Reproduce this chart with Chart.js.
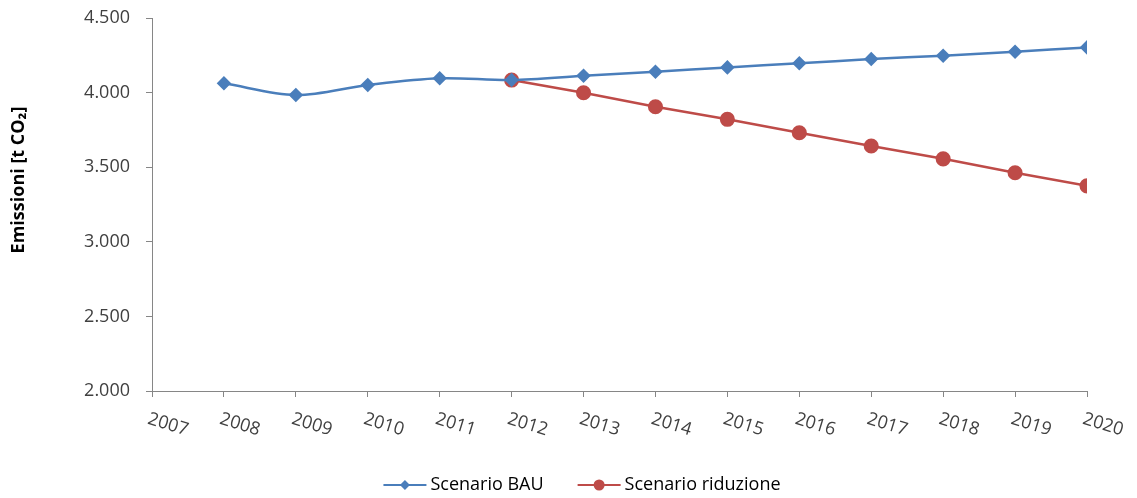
<!DOCTYPE html>
<html>
<head>
<meta charset="utf-8">
<script src="https://cdn.jsdelivr.net/npm/chart.js@4"></script>
<style>
  html, body { margin: 0; padding: 0; background: #fff; }
  #wrap { width: 1137px; height: 498px; }
</style>
</head>
<body>
<div id="wrap"><canvas id="emChart"></canvas></div>
<script>
const yearTicks = [2007, 2008, 2009, 2010, 2011, 2012, 2013, 2014, 2015, 2016, 2017, 2018, 2019, 2020];
const bauYears = [2008, 2009, 2010, 2011, 2012, 2013, 2014, 2015, 2016, 2017, 2018, 2019, 2020];
const bauValues = [4062, 3984, 4051, 4096, 4084, 4113, 4140, 4169, 4196, 4225, 4247, 4274, 4303];
const ridYears = [2012, 2013, 2014, 2015, 2016, 2017, 2018, 2019, 2020];
const ridValues = [4084, 3999, 3905, 3821, 3731, 3642, 3556, 3463, 3375];
const seriesNames = ["Scenario BAU", "Scenario riduzione"];
const yTitle = "Emissioni [t CO\u2082]";

const blue = "#4a7ebb";
const red = "#be4b48";
const axisGray = "#868686";
const textGray = "#404040";
const font = "'Open Sans', 'Noto Sans', sans-serif";

function fmt(v) {
    return String(v).replace(/\B(?=(\d{3})+(?!\d))/g, ".");
}

// x labels rotated clockwise, y title and legend drawn by hand
const extraText = {
    id: "extraText",
    afterDraw(chart) {
        const ctx = chart.ctx;
        const xs = chart.scales.x;
        const bottom = chart.chartArea.bottom;
        ctx.save();
        ctx.fillStyle = textGray;
        ctx.font = "18px " + font;
        ctx.textAlign = "left";
        ctx.textBaseline = "top";
        yearTicks.forEach(function (yr) {
            const px = xs.getPixelForValue(yr);
            ctx.save();
            ctx.translate(px - 1, bottom + 19);
            ctx.rotate(17 * Math.PI / 180);
            ctx.fillText(String(yr), 0, 0);
            ctx.restore();
        });
        ctx.restore();

        ctx.save();
        ctx.translate(19, 180);
        ctx.rotate(-Math.PI / 2);
        ctx.textAlign = "center";
        ctx.textBaseline = "middle";
        ctx.fillStyle = "#000";
        ctx.font = "bold 18px " + font;
        ctx.fillText(yTitle, 0, 0);
        ctx.restore();

        // legend
        const lineW = 43, gap = 4, spacing = 34, cy = 485, cx = 582;
        ctx.save();
        ctx.font = "18px " + font;
        ctx.textBaseline = "middle";
        ctx.textAlign = "left";
        const widths = chart.data.datasets.map(ds => ctx.measureText(ds.label).width);
        let total = 0;
        widths.forEach((w, i) => { total += lineW + gap + w + (i ? spacing : 0); });
        let x = cx - total / 2;
        chart.data.datasets.forEach(function (ds, i) {
            ctx.strokeStyle = ds.borderColor;
            ctx.fillStyle = ds.borderColor;
            ctx.lineWidth = 2;
            ctx.beginPath(); ctx.moveTo(x, cy); ctx.lineTo(x + lineW, cy); ctx.stroke();
            const mx = x + lineW / 2;
            ctx.beginPath();
            if (ds.pointStyle === "rectRot") {
                ctx.moveTo(mx, cy - 5); ctx.lineTo(mx + 5, cy); ctx.lineTo(mx, cy + 5); ctx.lineTo(mx - 5, cy); ctx.closePath();
            } else {
                ctx.arc(mx, cy, 5.5, 0, Math.PI * 2);
            }
            ctx.fill();
            ctx.fillStyle = "#000";
            ctx.fillText(ds.label, x + lineW + gap, cy);
            x += lineW + gap + widths[i] + spacing;
        });
        ctx.restore();
    }
};

new Chart(document.getElementById("emChart").getContext("2d"), {
    type: "line",
    data: {
        datasets: [{
            label: seriesNames[0],
            data: bauYears.map((yr, i) => ({ x: yr, y: bauValues[i] })),
            borderColor: blue,
            backgroundColor: blue,
            borderWidth: 2.5,
            pointStyle: "rectRot",
            pointRadius: 5.5,
            pointHoverRadius: 5.5,
            tension: 0.33
        }, {
            label: seriesNames[1],
            data: ridYears.map((yr, i) => ({ x: yr, y: ridValues[i] })),
            borderColor: red,
            backgroundColor: red,
            borderWidth: 2.5,
            pointStyle: "circle",
            pointRadius: 6.3,
            pointHoverRadius: 6.3,
            tension: 0
        }]
    },
    options: {
        responsive: true,
        maintainAspectRatio: false,
        animation: false,
        layout: { padding: { left: 0, right: 50, top: 18, bottom: 47 } },
        scales: {
            x: {
                type: "linear",
                min: 2007,
                max: 2020,
                afterBuildTicks(scale) {
                    scale.ticks = yearTicks.map(v => ({ value: v }));
                },
                afterFit(scale) { scale.height = 60; },
                ticks: { display: false },
                grid: { drawOnChartArea: false, color: axisGray, tickLength: 6 },
                border: { color: axisGray, width: 1 }
            },
            y: {
                min: 2000,
                max: 4500,
                afterFit(scale) {
                    scale.width = 152;
                    scale.paddingTop = 0;
                    scale.paddingBottom = 0;
                },
                ticks: {
                    stepSize: 500,
                    padding: 16,
                    color: textGray,
                    font: { family: font, size: 18 },
                    callback: v => fmt(v)
                },
                grid: { drawOnChartArea: false, color: axisGray, tickLength: 6 },
                border: { color: axisGray, width: 1 }
            }
        },
        plugins: {
            legend: { display: false },
            tooltip: { enabled: false }
        }
    },
    plugins: [extraText]
});
</script>
</body>
</html>
